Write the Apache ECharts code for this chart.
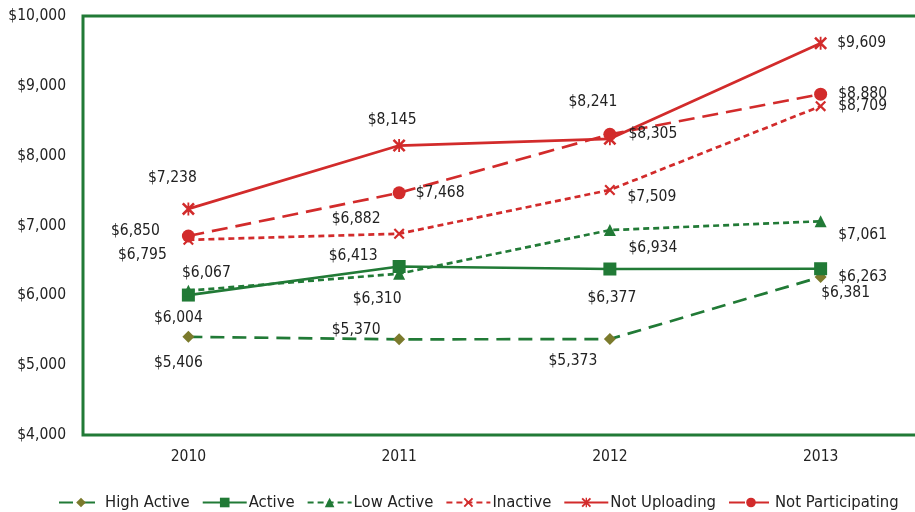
<!DOCTYPE html>
<html>
<head>
<meta charset="utf-8">
<script src="https://cdn.jsdelivr.net/npm/echarts@6/dist/echarts.min.js"></script>
<style>
  html, body { margin: 0; padding: 0; background: #fff; }
  #chart { width: 915px; height: 512px; }
</style>
</head>
<body>
<div id="chart"></div>
<script>
// Category axis
const years = ['2010', '2011', '2012', '2013'];

// Average cost per group and year
const highActive       = [5406, 5370, 5373, 6263];
const active           = [6004, 6413, 6377, 6381];
const lowActive        = [6067, 6310, 6934, 7061];
const inactive         = [6795, 6882, 7509, 8709];
const notUploading     = [7238, 8145, 8241, 9609];
const notParticipating = [6850, 7468, 8305, 8880];

// Y axis range
const yMin = 4000, yMax = 10000, yStep = 1000;

const GREEN = '#217a36';
const RED = '#d22b2b';
const OLIVE = '#7b7a2c';
const FONT = '"DejaVu Sans Condensed", "DejaVu Sans", sans-serif';

// Marker shapes: X and asterisk drawn as filled bars
const X_PATH = 'path://M0,1.4L1.4,0L10,8.6L8.6,10Z M8.6,0L10,1.4L1.4,10L0,8.6Z';
const STAR_PATH = 'path://M0,1.4L1.4,0L10,8.6L8.6,10Z M8.6,0L10,1.4L1.4,10L0,8.6Z M4.3,0L5.7,0L5.7,10L4.3,10Z';

// Label placement per point (offset from the marker centre, px)
const labelOffsets = {
  highActive:       [[-10, 26], [-43, -9], [-37, 22], [42, 0]],
  active:           [[-10, 23], [-46, -11], [2, 29], [25, 24]],
  lowActive:        [[18, -18], [-22, 25], [43, 18], [42, 14]],
  inactive:         [[-46, 15], [-43, -15], [42, 7], [42, 0]],
  notUploading:     [[-16, -31], [-7, -26], [-17, -37], [41, 0]],
  notParticipating: [[-53, -5], [41, 0], [43, 0], [42, 0]]
};

const money = v => '$' + v.toLocaleString('en-US');

function withLabels(values, offsets) {
  return values.map((v, i) => ({
    value: v,
    label: { offset: offsets[i] }
  }));
}

function makeSeries(name, values, offsets, opts) {
  return {
    name: name,
    type: 'line',
    data: withLabels(values, offsets),
    symbol: opts.symbol,
    symbolSize: opts.symbolSize,
    z: opts.z || 2,
    lineStyle: { color: opts.color, width: opts.width || 2.7, type: opts.dash || 'solid' },
    itemStyle: { color: opts.markerColor || opts.color },
    label: {
      show: true,
      position: 'inside',
      formatter: p => money(p.value),
      color: '#222',
      fontFamily: FONT,
      fontSize: 15.5
    },
    emphasis: { disabled: true },
    animation: false
  };
}

const chart = echarts.init(document.getElementById('chart'), null, { renderer: 'canvas' });

chart.setOption({
  backgroundColor: '#fff',
  animation: false,
  grid: {
    left: 83, top: 16, right: -11, bottom: 77,
    outerBoundsMode: 'none',
    containLabel: false,
    show: true, borderColor: GREEN, borderWidth: 3, backgroundColor: 'transparent'
  },
  xAxis: {
    type: 'category',
    data: years,
    boundaryGap: true,
    axisLine: { show: false },
    axisTick: { show: false },
    axisLabel: { color: '#222', fontFamily: FONT, fontSize: 15.5, margin: 14 }
  },
  yAxis: {
    type: 'value',
    min: yMin, max: yMax, interval: yStep,
    axisLine: { show: false },
    axisTick: { show: false },
    splitLine: { show: false },
    axisLabel: { color: '#222', fontFamily: FONT, fontSize: 15.5, margin: 17, formatter: v => money(v) }
  },
  legend: {
    top: 489,
    left: 53,
    itemWidth: 44,
    itemHeight: 12,
    itemGap: 12,
    textStyle: { color: '#222', fontFamily: FONT, fontSize: 16.5, padding: [0, 0, 0, -3] },
    data: ['High Active', 'Active', 'Low Active', 'Inactive', 'Not Uploading', 'Not Participating']
  },
  series: [
    makeSeries('High Active', highActive, labelOffsets.highActive,
      { color: GREEN, markerColor: OLIVE, symbol: 'diamond', symbolSize: 12, dash: [14, 8] }),
    makeSeries('Active', active, labelOffsets.active,
      { color: GREEN, symbol: 'rect', symbolSize: 13 }),
    makeSeries('Low Active', lowActive, labelOffsets.lowActive,
      { color: GREEN, symbol: 'triangle', symbolSize: 12, dash: [6, 4] }),
    makeSeries('Inactive', inactive, labelOffsets.inactive,
      { color: RED, symbol: X_PATH, symbolSize: 11, dash: [6, 4] }),
    makeSeries('Not Uploading', notUploading, labelOffsets.notUploading,
      { color: RED, symbol: STAR_PATH, symbolSize: 13 }),
    makeSeries('Not Participating', notParticipating, labelOffsets.notParticipating,
      { color: RED, symbol: 'circle', symbolSize: 13, dash: [16, 8] })
  ]
});
</script>
</body>
</html>
